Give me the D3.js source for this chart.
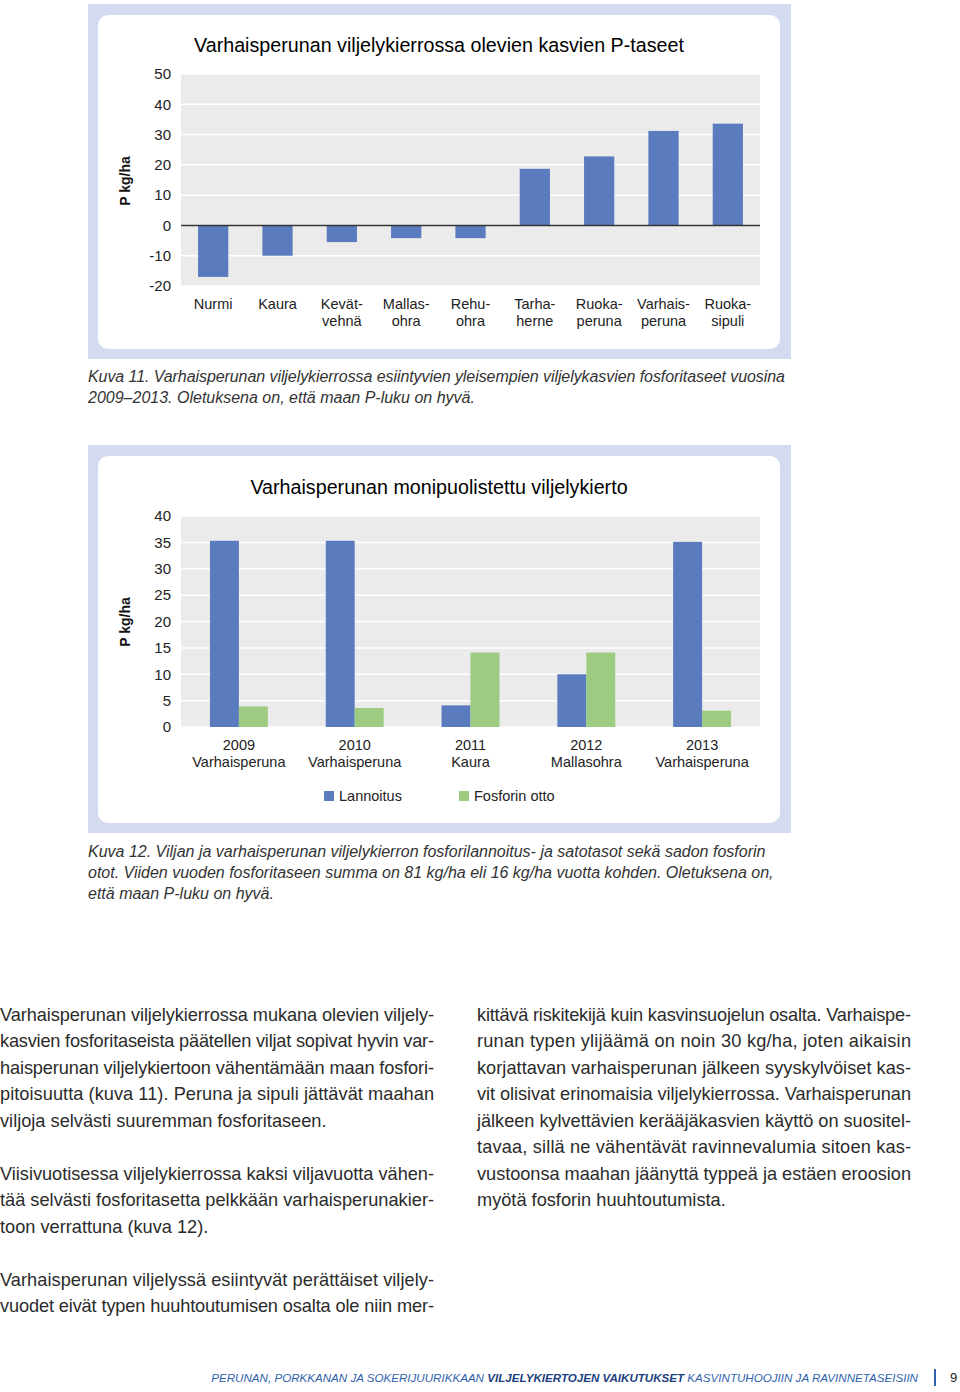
<!DOCTYPE html>
<html>
<head>
<meta charset="utf-8">
<script src="https://cdn.jsdelivr.net/npm/d3@7"></script>
<style>
  body { margin: 0; background: #fff; }
  svg text { font-family: "Liberation Sans", Arial, sans-serif; }
</style>
</head>
<body>
<div id="page"></div>
<script>
// Kuva 11 data
var crops = ["Nurmi", "Kaura", "Kevät-\nvehnä", "Mallas-\nohra", "Rehu-\nohra",
             "Tarha-\nherne", "Ruoka-\nperuna", "Varhais-\nperuna", "Ruoka-\nsipuli"];
var pBalance = [-17, -10, -5.5, -4.2, -4.2, 18.7, 22.8, 31.2, 33.6];
var ticks1 = [-20, -10, 0, 10, 20, 30, 40, 50];

// Kuva 12 data
var years = ["2009", "2010", "2011", "2012", "2013"];
var rotation = ["Varhaisperuna", "Varhaisperuna", "Kaura", "Mallasohra", "Varhaisperuna"];
var series = ["Lannoitus", "Fosforin otto"];
var lannoitus = [35.3, 35.3, 4.1, 10.0, 35.1];
var fosforinOtto = [3.9, 3.6, 14.1, 14.1, 3.1];
var ticks2 = [0, 5, 10, 15, 20, 25, 30, 35, 40];

var blue = "#5b7bbf", green = "#9dcb82";

var W = 960, H = 1392;
var svg = d3.select("#page").append("svg")
  .attr("width", W).attr("height", H);

function frame(y, h) {
  svg.append("rect").attr("x", 88).attr("y", y).attr("width", 703).attr("height", h)
    .attr("fill", "#d4daef");
  svg.append("rect").attr("x", 98).attr("y", y + 11).attr("width", 682).attr("height", h - 21)
    .attr("rx", 10).attr("fill", "#fff");
}

function yLabel(cy) {
  svg.append("text")
    .attr("transform", "translate(130," + cy + ") rotate(-90)")
    .attr("text-anchor", "middle")
    .attr("font-size", "14px").attr("font-weight", "bold").attr("fill", "#111")
    .text("P kg/ha");
}

function gridAxis(y, ticks) {
  var g = svg.append("g");
  g.selectAll("line.grid").data(ticks).enter().append("line")
    .attr("class", "grid")
    .attr("x1", 181).attr("x2", 760)
    .attr("y1", function(d) { return y(d); })
    .attr("y2", function(d) { return y(d); })
    .attr("stroke", "#fff").attr("stroke-width", 1.5);
  var ax = svg.append("g").attr("transform", "translate(181,0)")
    .call(d3.axisLeft(y).tickValues(ticks).tickSize(0).tickPadding(10)
      .tickFormat(function(d) { return String(d); }));
  ax.select(".domain").remove();
  ax.selectAll("text").attr("font-size", "15px").attr("fill", "#222")
    .attr("font-family", "Liberation Sans, Arial, sans-serif");
}

// ---------- Chart 1 ----------
frame(4, 355);

svg.append("text").attr("x", 439).attr("y", 52).attr("text-anchor", "middle")
  .attr("font-size", "19.7px").attr("fill", "#000")
  .text("Varhaisperunan viljelykierrossa olevien kasvien P-taseet");

var y1 = d3.scaleLinear().domain([-20, 50]).range([286, 74]);
var x1 = d3.scaleBand().domain(crops).range([181, 760]).paddingInner(0.53).paddingOuter(0.265);

svg.append("rect").attr("x", 181).attr("y", y1(50)).attr("width", 579)
  .attr("height", y1(-20) - y1(50)).attr("fill", "#ebebeb");
gridAxis(y1, ticks1);
yLabel(181);

svg.append("g").selectAll("rect").data(pBalance).enter().append("rect")
  .attr("x", function(d, i) { return x1(crops[i]); })
  .attr("y", function(d) { return y1(Math.max(0, d)); })
  .attr("width", x1.bandwidth())
  .attr("height", function(d) { return Math.abs(y1(d) - y1(0)); })
  .attr("fill", blue);

svg.append("line").attr("x1", 181).attr("x2", 760)
  .attr("y1", y1(0)).attr("y2", y1(0))
  .attr("stroke", "#333").attr("stroke-width", 1.5);

svg.append("g").selectAll("text").data(crops).enter().append("text")
  .attr("x", function(d) { return x1(d) + x1.bandwidth() / 2; })
  .attr("y", 309)
  .attr("text-anchor", "middle").attr("font-size", "14.5px").attr("fill", "#222")
  .each(function(d) {
    var t = d3.select(this);
    d.split("\n").forEach(function(s, k) {
      t.append("tspan").attr("x", t.attr("x")).attr("dy", k ? 17 : 0).text(s);
    });
  });

// caption 11
var cap11 = ["Kuva 11. Varhaisperunan viljelykierrossa esiintyvien yleisempien viljelykasvien fosforitaseet vuosina",
             "2009–2013. Oletuksena on, että maan P-luku on hyvä."];
svg.append("g").selectAll("text").data(cap11).enter().append("text")
  .attr("x", 88).attr("y", function(d, i) { return 382 + i * 21; })
  .attr("font-size", "16px").attr("font-style", "italic").attr("fill", "#333")
  .attr("textLength", function(d, i) { return i === 0 ? 697 : null; })
  .text(function(d) { return d; });

// ---------- Chart 2 ----------
frame(445, 388);

svg.append("text").attr("x", 439).attr("y", 494).attr("text-anchor", "middle")
  .attr("font-size", "19.7px").attr("fill", "#000")
  .text("Varhaisperunan monipuolistettu viljelykierto");

var y2 = d3.scaleLinear().domain([0, 40]).range([727, 516]);
var x0 = d3.scaleBand().domain(years).range([181, 760]).paddingInner(0.5).paddingOuter(0.25);
var xs = d3.scaleBand().domain(series).range([0, x0.bandwidth()]);

svg.append("rect").attr("x", 181).attr("y", y2(40)).attr("width", 579)
  .attr("height", y2(0) - y2(40)).attr("fill", "#ebebeb");
gridAxis(y2, ticks2);
yLabel(622);

var groups = svg.append("g").selectAll("g").data(years).enter().append("g")
  .attr("transform", function(d) { return "translate(" + x0(d) + ",0)"; });
groups.selectAll("rect")
  .data(function(d, i) { return [lannoitus[i], fosforinOtto[i]]; })
  .enter().append("rect")
  .attr("x", function(d, j) { return xs(series[j]); })
  .attr("y", function(d) { return y2(d); })
  .attr("width", xs.bandwidth())
  .attr("height", function(d) { return y2(0) - y2(d); })
  .attr("fill", function(d, j) { return j ? green : blue; });

svg.append("g").selectAll("text").data(years).enter().append("text")
  .attr("x", function(d) { return x0(d) + x0.bandwidth() / 2; })
  .attr("y", 750)
  .attr("text-anchor", "middle").attr("font-size", "14.5px").attr("fill", "#222")
  .each(function(d, i) {
    var t = d3.select(this);
    t.append("tspan").attr("x", t.attr("x")).text(d);
    t.append("tspan").attr("x", t.attr("x")).attr("dy", 17).text(rotation[i]);
  });

// legend
var legX = [324, 459];
var leg = svg.append("g").selectAll("g").data(series).enter().append("g")
  .attr("transform", function(d, i) { return "translate(" + legX[i] + ",791)"; });
leg.append("rect").attr("width", 10).attr("height", 10)
  .attr("fill", function(d, i) { return i ? green : blue; });
leg.append("text").attr("x", 15).attr("y", 10)
  .attr("font-size", "14.5px").attr("fill", "#222").text(function(d) { return d; });

// caption 12
var cap12 = ["Kuva 12. Viljan ja varhaisperunan viljelykierron fosforilannoitus- ja satotasot sekä sadon fosforin",
             "otot. Viiden vuoden fosforitaseen summa on 81 kg/ha eli 16 kg/ha vuotta kohden. Oletuksena on,",
             "että maan P-luku on hyvä."];
svg.append("g").selectAll("text").data(cap12).enter().append("text")
  .attr("x", 88).attr("y", function(d, i) { return 857 + i * 21; })
  .attr("font-size", "16px").attr("font-style", "italic").attr("fill", "#333")
  .text(function(d) { return d; });

// ---------- body text ----------
// [text, justified]
var leftCol = [
  ["Varhaisperunan viljelykierrossa mukana olevien viljely-", 1],
  ["kasvien fosforitaseista päätellen viljat sopivat hyvin var-", 1],
  ["haisperunan viljelykiertoon vähentämään maan fosfori-", 1],
  ["pitoisuutta (kuva 11). Peruna ja sipuli jättävät maahan", 1],
  ["viljoja selvästi suuremman fosforitaseen.", 0],
  ["", 0],
  ["Viisivuotisessa viljelykierrossa kaksi viljavuotta vähen-", 1],
  ["tää selvästi fosforitasetta pelkkään varhaisperunakier-", 1],
  ["toon verrattuna (kuva 12).", 0],
  ["", 0],
  ["Varhaisperunan viljelyssä esiintyvät perättäiset viljely-", 1],
  ["vuodet eivät typen huuhtoutumisen osalta ole niin mer-", 1]
];
var rightCol = [
  ["kittävä riskitekijä kuin kasvinsuojelun osalta. Varhaispe-", 1],
  ["runan typen ylijäämä on noin 30 kg/ha, joten aikaisin", 1],
  ["korjattavan varhaisperunan jälkeen syyskylvöiset kas-", 1],
  ["vit olisivat erinomaisia viljelykierrossa. Varhaisperunan", 1],
  ["jälkeen kylvettävien kerääjäkasvien käyttö on suositel-", 1],
  ["tavaa, sillä ne vähentävät ravinnevalumia sitoen kas-", 1],
  ["vustoonsa maahan jäänyttä typpeä ja estäen eroosion", 1],
  ["myötä fosforin huuhtoutumista.", 0]
];
function column(lines, x) {
  svg.append("g").selectAll("text").data(lines).enter().append("text")
    .attr("x", x).attr("y", function(d, i) { return 1021 + i * 26.45; })
    .attr("font-size", "18.2px").attr("fill", "#2b2b2b")
    .attr("textLength", function(d) { return d[1] ? 434 : null; })
    .attr("lengthAdjust", "spacing")
    .text(function(d) { return d[0]; });
}
column(leftCol, 0);
column(rightCol, 477);

// ---------- footer ----------
var foot = svg.append("text").attr("x", 918).attr("y", 1382).attr("text-anchor", "end")
  .attr("font-size", "11.6px").attr("font-style", "italic").attr("fill", "#2f62ab");
foot.append("tspan").text("PERUNAN, PORKKANAN JA SOKERIJUURIKKAAN ");
foot.append("tspan").attr("font-weight", "bold").attr("fill", "#1d3f80").text("VILJELYKIERTOJEN VAIKUTUKSET");
foot.append("tspan").text(" KASVINTUHOOJIIN JA RAVINNETASEISIIN");
svg.append("line").attr("x1", 935).attr("x2", 935).attr("y1", 1369).attr("y2", 1386)
  .attr("stroke", "#2f62ab").attr("stroke-width", 2);
svg.append("text").attr("x", 950).attr("y", 1382).attr("font-size", "13px").attr("fill", "#222").text("9");
</script>
</body>
</html>
